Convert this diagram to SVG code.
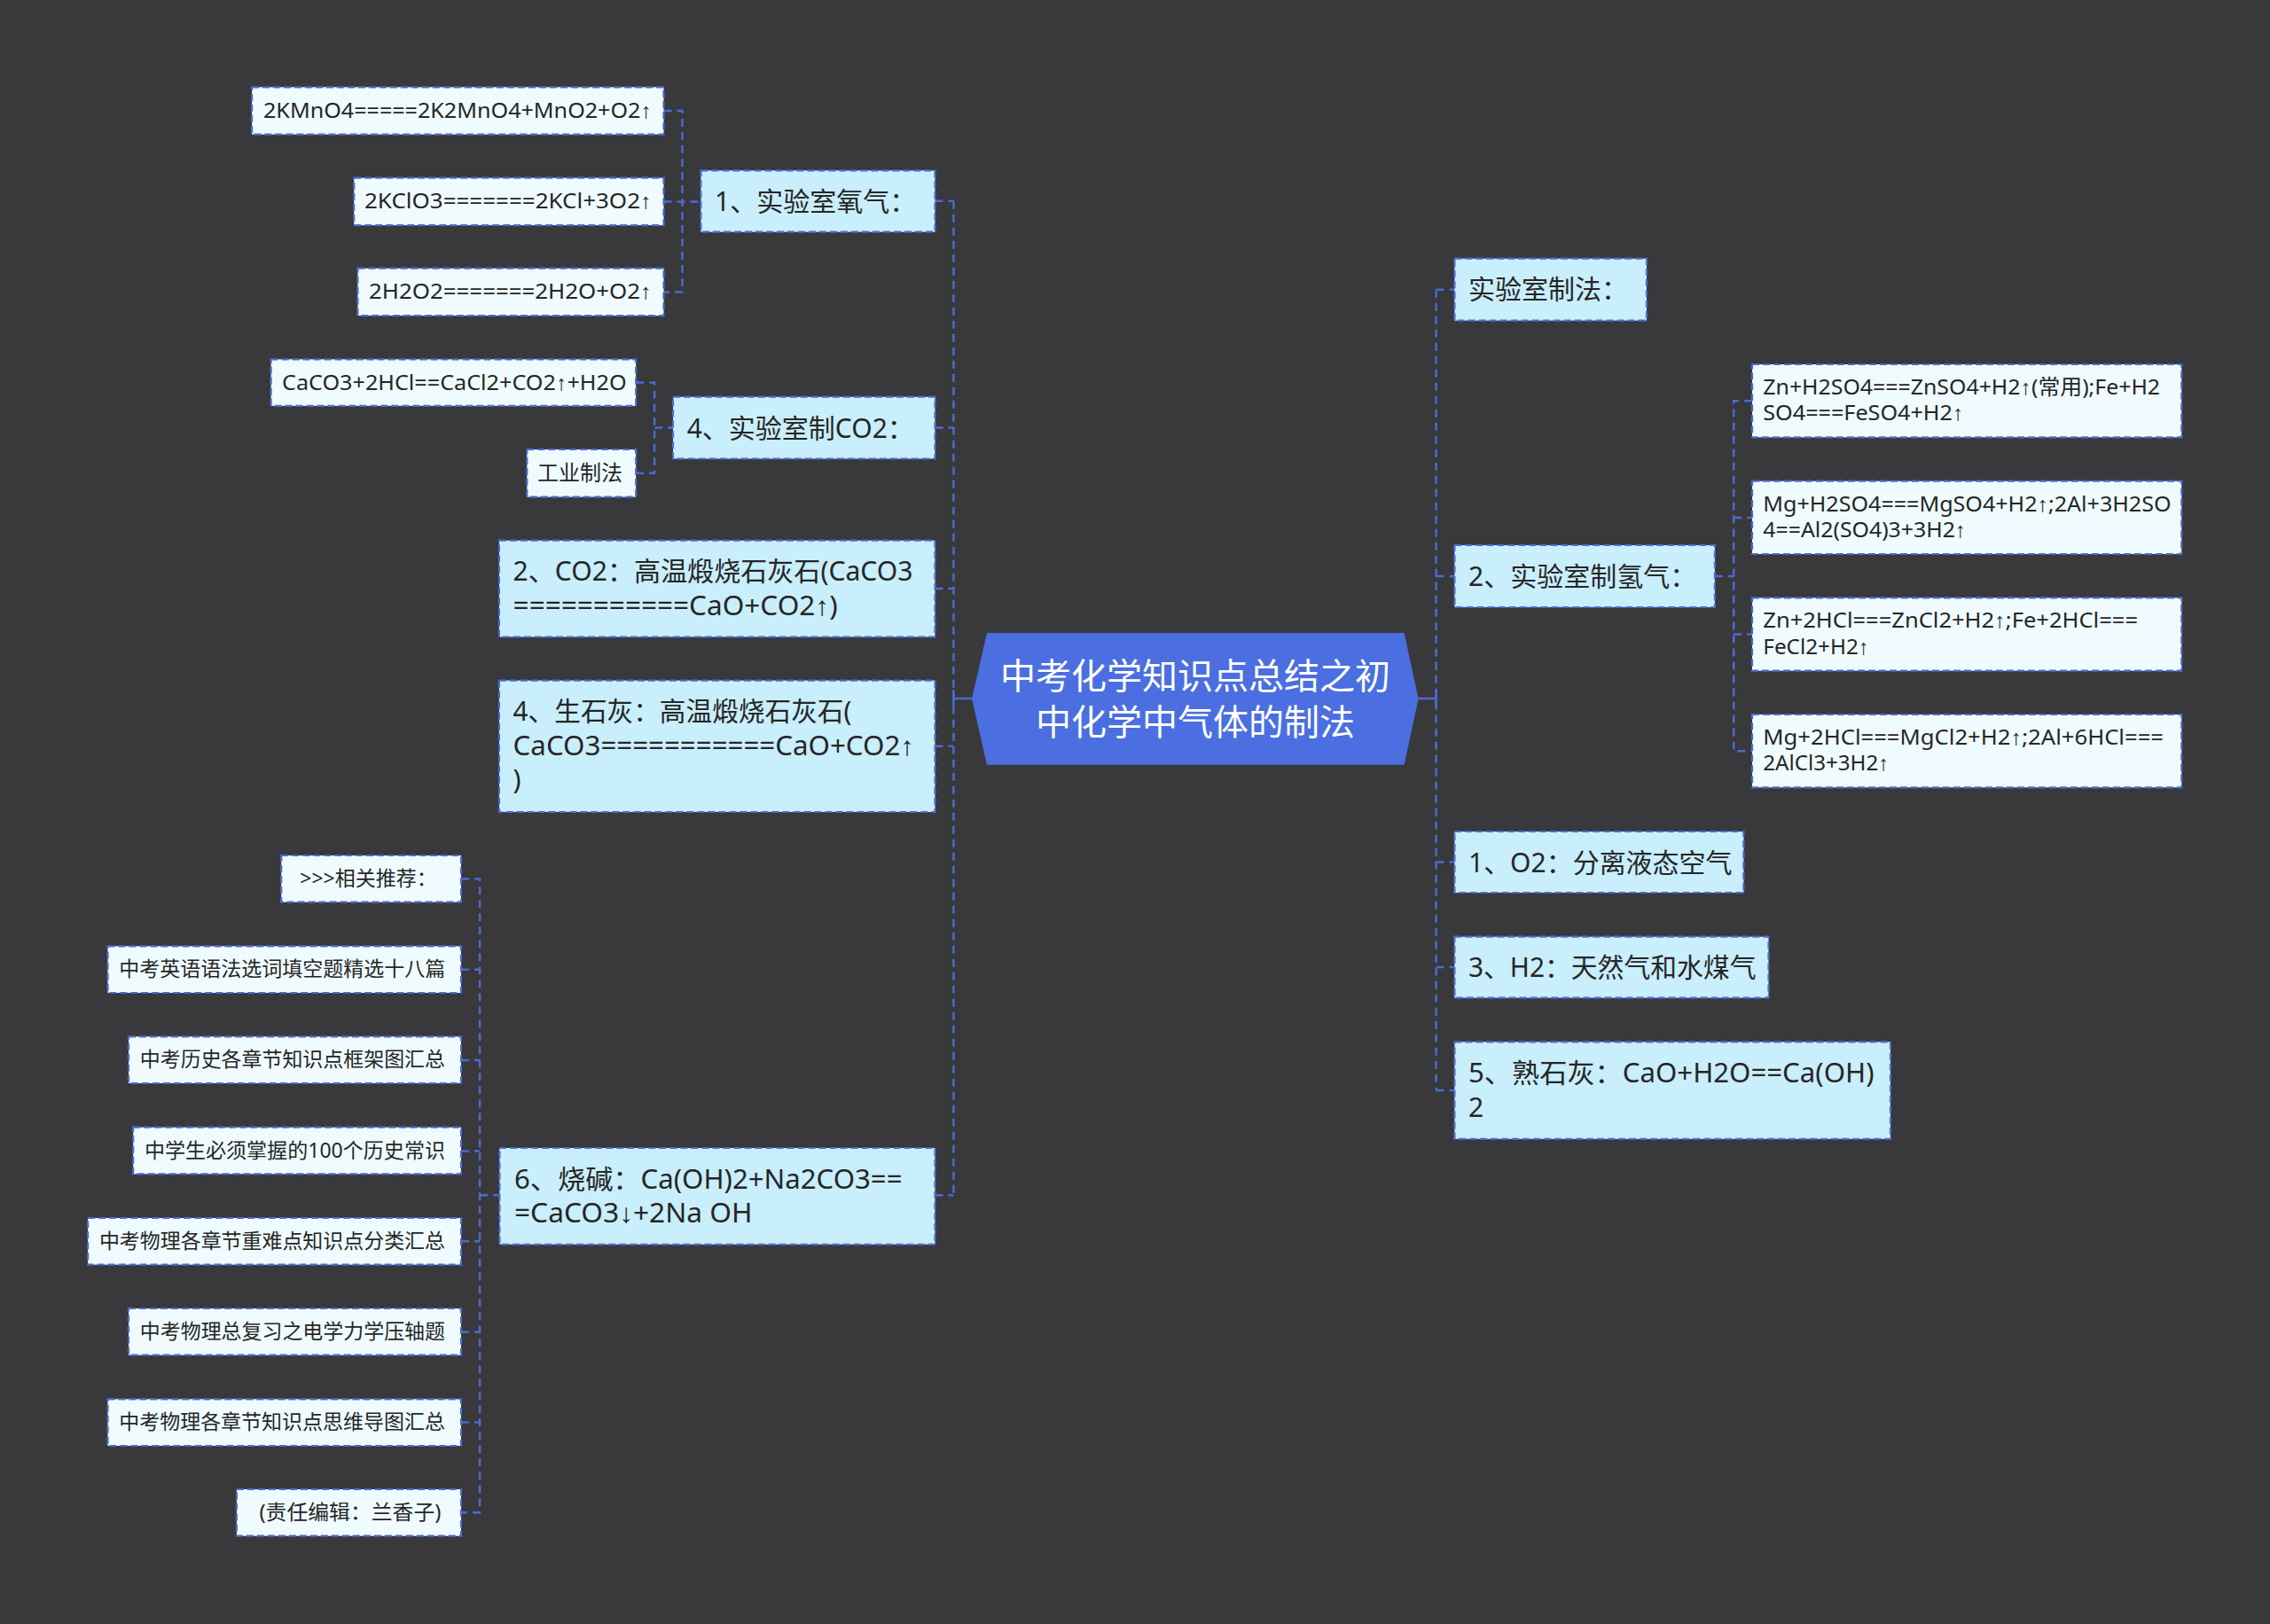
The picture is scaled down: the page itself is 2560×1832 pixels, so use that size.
<svg xmlns="http://www.w3.org/2000/svg" width="2560" height="1832" viewBox="0 0 2560 1832">
<style>
.bg{fill:#39383b}
.l1{fill:#c9eefc;stroke:#4a6bd0;stroke-width:2.2;stroke-dasharray:8 4}
.lf{fill:#effbfe;stroke:#4a6bd0;stroke-width:2.2;stroke-dasharray:8 4}
.c{fill:none;stroke:#4a6bd0;stroke-width:2.5;stroke-dasharray:9 6}
.cs{fill:none;stroke:#4a6bd0;stroke-width:2.5}
text{font-family:"Noto Sans","Liberation Sans","Noto Sans CJK SC",sans-serif;fill:#262626}
.t1{font-size:30px}
.tl{font-size:24px}
.tr{font-size:23px}
.tc{font-size:40px;fill:#ffffff;text-anchor:middle}
</style>
<rect class="bg" x="0" y="0" width="2560" height="1832"/>

<g id="connectors">
  <path class="cs" d="M1096 788 H1075.4 M1075.4 778 V798"/>
  <path class="cs" d="M1599.6 788 H1619.6 M1619.6 778 V798"/>
  <path class="c" d="M1075.4 226.7 V1348.3"/>
  <path class="c" d="M1054.5 226.7 H1075.4 M1054.5 482.6 H1075.4 M1054.5 664.1 H1075.4 M1054.5 841.8 H1075.4 M1054.5 1348.3 H1075.4"/>
  <path class="c" d="M1619.6 326.7 V1230"/>
  <path class="c" d="M1619.6 326.7 H1640.4 M1619.6 650 H1640.4 M1619.6 972.5 H1640.4 M1619.6 1091.1 H1640.4 M1619.6 1230 H1640.4"/>
  <path class="c" d="M748.5 124.9 H769.5 V329.4 H748.5 M748.5 227.4 H790.4"/>
  <path class="c" d="M717.2 431.6 H738.1 V533.8 H717.2 M738.1 482.6 H759"/>
  <path class="c" d="M1933.9 650 H1955.2 M1976 452.2 H1955.2 V847.3 H1976 M1955.2 583.9 H1976 M1955.2 715.5 H1976"/>
  <path class="c" d="M520 991.4 H541.1 V1706.3 H520 M520 1093.7 H541.1 M520 1196 H541.1 M520 1298.4 H541.1 M520 1400.3 H541.1 M520 1502.5 H541.1 M520 1604.5 H541.1 M541.1 1348.3 H563.4"/>
</g>

<g id="center">
  <polygon points="1096,788.3 1113,714 1583.6,714 1599.6,788.3 1583.6,862.7 1113,862.7" fill="#4b6fe0"/>
  <text class="tc" x="1348" y="777">中考化学知识点总结之初</text>
  <text class="tc" x="1348" y="829">中化学中气体的制法</text>
</g>

<g id="n-p1">
  <rect class="l1" x="790.4" y="192.3" width="264.1" height="69.4"/>
  <text class="t1" x="806" y="238">1、实验室氧气：</text>
</g>
<g id="n-a1">
  <rect class="lf" x="284.1" y="98.3" width="464.4" height="53.4"/>
  <text class="tl" x="297" y="132.5" textLength="438" lengthAdjust="spacingAndGlyphs">2KMnO4=====2K2MnO4+MnO2+O2↑</text>
</g>
<g id="n-a2">
  <rect class="lf" x="399.2" y="200.7" width="349.3" height="53.4"/>
  <text class="tl" x="411" y="235" textLength="324" lengthAdjust="spacingAndGlyphs">2KClO3=======2KCl+3O2↑</text>
</g>
<g id="n-a3">
  <rect class="lf" x="403.4" y="302.7" width="345.1" height="53.4"/>
  <text class="tl" x="416" y="337" textLength="319" lengthAdjust="spacingAndGlyphs">2H2O2=======2H2O+O2↑</text>
</g>

<g id="n-p2">
  <rect class="l1" x="759" y="447.7" width="295.5" height="69.8"/>
  <text class="t1" x="774.7" y="493.5">4、实验室制CO2：</text>
</g>
<g id="n-b1">
  <rect class="lf" x="305.6" y="405.3" width="411.6" height="52.6"/>
  <text class="tl" x="318" y="439.5" textLength="388.6" lengthAdjust="spacingAndGlyphs">CaCO3+2HCl==CaCl2+CO2↑+H2O</text>
</g>
<g id="n-b2">
  <rect class="lf" x="594.3" y="507" width="122.9" height="53.6"/>
  <text class="tl" x="606" y="541.5">工业制法</text>
</g>

<g id="n-p3">
  <rect class="l1" x="562.9" y="609.7" width="491.6" height="108.8"/>
  <text class="t1" x="578.6" y="655.3" textLength="450.8" lengthAdjust="spacingAndGlyphs">2、CO2：高温煅烧石灰石(CaCO3</text>
  <text class="t1" x="578.6" y="693.9" textLength="366" lengthAdjust="spacingAndGlyphs">===========CaO+CO2↑)</text>
</g>

<g id="n-p4">
  <rect class="l1" x="562.9" y="767.6" width="491.6" height="148.4"/>
  <text class="t1" x="578.6" y="813.2" textLength="381.8" lengthAdjust="spacingAndGlyphs">4、生石灰：高温煅烧石灰石(</text>
  <text class="t1" x="578.6" y="851.8" textLength="452.4" lengthAdjust="spacingAndGlyphs">CaCO3===========CaO+CO2↑</text>
  <text class="t1" x="578.6" y="890.4">)</text>
</g>

<g id="n-p6">
  <rect class="l1" x="563.4" y="1295" width="491.1" height="108.8"/>
  <text class="t1" x="580" y="1340.6" textLength="437.5" lengthAdjust="spacingAndGlyphs">6、烧碱：Ca(OH)2+Na2CO3==</text>
  <text class="t1" x="580" y="1379.2" textLength="268.5" lengthAdjust="spacingAndGlyphs">=CaCO3↓+2Na OH</text>
</g>

<g id="n-l1">
  <rect class="lf" x="317.2" y="965" width="202.8" height="52.7"/>
  <text class="tr" x="338.3" y="999">&gt;&gt;&gt;相关推荐：</text>
</g>
<g id="n-l2">
  <rect class="lf" x="121.5" y="1067.3" width="398.5" height="52.7"/>
  <text class="tr" x="134.2" y="1101.3" textLength="368" lengthAdjust="spacingAndGlyphs">中考英语语法选词填空题精选十八篇</text>
</g>
<g id="n-l3">
  <rect class="lf" x="145" y="1169.3" width="375" height="52.7"/>
  <text class="tr" x="157.8" y="1203.3" textLength="344.2" lengthAdjust="spacingAndGlyphs">中考历史各章节知识点框架图汇总</text>
</g>
<g id="n-l4">
  <rect class="lf" x="150.2" y="1271.7" width="369.8" height="52.7"/>
  <text class="tr" x="162.9" y="1305.7" textLength="339.1" lengthAdjust="spacingAndGlyphs">中学生必须掌握的100个历史常识</text>
</g>
<g id="n-l5">
  <rect class="lf" x="99.1" y="1374" width="420.9" height="52.7"/>
  <text class="tr" x="111.9" y="1408" textLength="390.1" lengthAdjust="spacingAndGlyphs">中考物理各章节重难点知识点分类汇总</text>
</g>
<g id="n-l6">
  <rect class="lf" x="145" y="1476" width="375" height="52.7"/>
  <text class="tr" x="157.8" y="1510" textLength="344.2" lengthAdjust="spacingAndGlyphs">中考物理总复习之电学力学压轴题</text>
</g>
<g id="n-l7">
  <rect class="lf" x="121.5" y="1578.3" width="398.5" height="52.7"/>
  <text class="tr" x="134.2" y="1612.3" textLength="367.8" lengthAdjust="spacingAndGlyphs">中考物理各章节知识点思维导图汇总</text>
</g>
<g id="n-l8">
  <rect class="lf" x="266.9" y="1680" width="253.1" height="52.7"/>
  <text class="tr" x="292.4" y="1714" textLength="205" lengthAdjust="spacingAndGlyphs">(责任编辑：兰香子)</text>
</g>

<g id="n-r1">
  <rect class="l1" x="1640.4" y="291.7" width="216.6" height="70"/>
  <text class="t1" x="1656" y="337.3">实验室制法：</text>
</g>
<g id="n-r2">
  <rect class="l1" x="1640.4" y="615" width="293.5" height="70"/>
  <text class="t1" x="1656" y="660.6">2、实验室制氢气：</text>
</g>
<g id="n-h1">
  <rect class="lf" x="1976" y="411" width="484.3" height="82.3"/>
  <text class="tl" x="1988.3" y="445" textLength="447.8" lengthAdjust="spacingAndGlyphs">Zn+H2SO4===ZnSO4+H2↑(常用);Fe+H2</text>
  <text class="tl" x="1988.3" y="474.3" textLength="226.2" lengthAdjust="spacingAndGlyphs">SO4===FeSO4+H2↑</text>
</g>
<g id="n-h2">
  <rect class="lf" x="1976" y="542.7" width="484.3" height="82.3"/>
  <text class="tl" x="1988.3" y="576.7" textLength="460.2" lengthAdjust="spacingAndGlyphs">Mg+H2SO4===MgSO4+H2↑;2Al+3H2SO</text>
  <text class="tl" x="1988.3" y="606" textLength="229" lengthAdjust="spacingAndGlyphs">4==Al2(SO4)3+3H2↑</text>
</g>
<g id="n-h3">
  <rect class="lf" x="1976" y="674.4" width="484.3" height="82.3"/>
  <text class="tl" x="1988.3" y="708.4" textLength="422.7" lengthAdjust="spacingAndGlyphs">Zn+2HCl===ZnCl2+H2↑;Fe+2HCl===</text>
  <text class="tl" x="1988.3" y="737.7" textLength="119.6" lengthAdjust="spacingAndGlyphs">FeCl2+H2↑</text>
</g>
<g id="n-h4">
  <rect class="lf" x="1976" y="806" width="484.3" height="82.3"/>
  <text class="tl" x="1988.3" y="839.7" textLength="451.7" lengthAdjust="spacingAndGlyphs">Mg+2HCl===MgCl2+H2↑;2Al+6HCl===</text>
  <text class="tl" x="1988.3" y="869" textLength="142" lengthAdjust="spacingAndGlyphs">2AlCl3+3H2↑</text>
</g>
<g id="n-r3">
  <rect class="l1" x="1640.4" y="938" width="326" height="69"/>
  <text class="t1" x="1656" y="983.6" textLength="297.5" lengthAdjust="spacingAndGlyphs">1、O2：分离液态空气</text>
</g>
<g id="n-r4">
  <rect class="l1" x="1640.4" y="1056.7" width="354.1" height="69"/>
  <text class="t1" x="1656" y="1102.3" textLength="324.5" lengthAdjust="spacingAndGlyphs">3、H2：天然气和水煤气</text>
</g>
<g id="n-r5">
  <rect class="l1" x="1640.4" y="1175.3" width="491.6" height="109.5"/>
  <text class="t1" x="1656" y="1220.9" textLength="457.5" lengthAdjust="spacingAndGlyphs">5、熟石灰：CaO+H2O==Ca(OH)</text>
  <text class="t1" x="1656" y="1259.5">2</text>
</g>
</svg>
